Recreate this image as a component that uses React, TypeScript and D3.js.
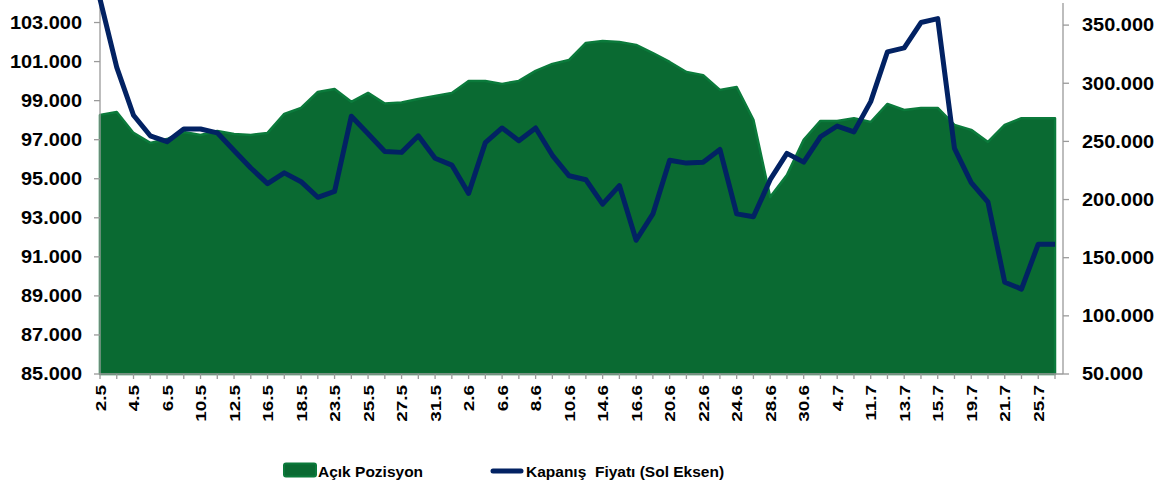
import React, { useEffect, useRef } from 'react';
import * as d3 from 'd3';

const dates = [
  '2.5', '3.5', '4.5', '5.5', '6.5', '9.5', '10.5', '11.5', '12.5', '13.5',
  '16.5', '17.5', '18.5', '20.5', '23.5', '24.5', '25.5', '26.5', '27.5', '30.5',
  '31.5', '1.6', '2.6', '3.6', '6.6', '7.6', '8.6', '9.6', '10.6', '13.6',
  '14.6', '15.6', '16.6', '17.6', '20.6', '21.6', '22.6', '23.6', '24.6', '27.6',
  '28.6', '29.6', '30.6', '1.7', '4.7', '8.7', '11.7', '12.7', '13.7', '14.7',
  '15.7', '18.7', '19.7', '20.7', '21.7', '22.7', '25.7', '26.7',
];

// Kapanış Fiyatı (left axis)
const closePrice = [
  104200, 100700, 98250, 97200, 96900, 97550, 97550, 97350, 96450, 95550,
  94750, 95300, 94850, 94050, 94350, 98200, 97300, 96400, 96350, 97200,
  96050, 95700, 94250, 96850, 97600, 96950, 97600, 96200, 95150, 94950,
  93700, 94650, 91850, 93200, 95950, 95800, 95850, 96500, 93200, 93050,
  94950, 96300, 95850, 97150, 97700, 97400, 98950, 101500, 101700, 103000,
  103200, 96550, 94800, 93800, 89700, 89350, 91650, 91650,
];

// Açık Pozisyon (right axis)
const openInterest = [
  272800, 275300, 257300, 248700, 252000, 258000, 255500, 259000, 256400, 255500,
  257300, 273600, 278800, 292500, 295100, 284000, 291700, 282600, 283500, 286500,
  289000, 291700, 302000, 302000, 299400, 302000, 310600, 316600, 320000, 334700,
  336400, 335500, 333000, 326000, 318300, 309700, 307000, 294300, 296800, 268500,
  202200, 221000, 251300, 267600, 267600, 270000, 266700, 282200, 277000, 278800,
  278800, 264200, 259900, 249500, 264200, 270000, 270000, 270000,
];

const leftTicks = [85000, 87000, 89000, 91000, 93000, 95000, 97000, 99000, 101000, 103000];
const rightTicks = [50000, 100000, 150000, 200000, 250000, 300000, 350000];

const seriesNames = ['Açık Pozisyon', 'Kapanış  Fiyatı (Sol Eksen)'];

const trLocale = d3.formatLocale({ decimal: ',', thousands: '.', grouping: [3], currency: ['', ' TL'] });
const fmt = trLocale.format(',.0f');

export default function App() {
  const ref = useRef<SVGSVGElement>(null);

  useEffect(() => {
    const svg = d3.select(ref.current);
    svg.selectAll('*').remove();
    const width = 1164;
    const height = 488;
    const left = 100;
    const right = 1063;
    const top = 3;
    const bottom = 374;
    const font = '"Liberation Sans", Arial, sans-serif';
    const green = '#0a6a32';
    const greenEdge = '#0b7a3b';
    const navy = '#022263';
    const axisColor = '#9a9a9a';

    svg.attr('width', width).attr('height', height);

    const x = d3.scalePoint<string>().domain(dates).range([left, 1055]);
    const yL = d3.scaleLinear().domain([85000, 104000]).range([bottom, top]);
    const yR = d3.scaleLinear().domain([50000, 369000]).range([bottom, top]);

    const area = d3
      .area<number>()
      .x((d, i) => x(dates[i]) as number)
      .y0(yR(50000))
      .y1((d) => yR(d));

    svg
      .append('path')
      .datum(openInterest)
      .attr('fill', green)
      .attr('stroke', greenEdge)
      .attr('stroke-width', 2.5)
      .attr('stroke-linejoin', 'round')
      .attr('d', area);

    // axes
    const ax = svg.append('g').attr('stroke', axisColor).attr('stroke-width', 1.3);
    ax.append('line').attr('x1', left).attr('x2', left).attr('y1', top).attr('y2', bottom);
    ax.append('line').attr('x1', right).attr('x2', right).attr('y1', top).attr('y2', bottom);
    ax.append('line').attr('x1', left).attr('x2', right).attr('y1', bottom).attr('y2', bottom);

    ax.selectAll('.tl')
      .data(leftTicks)
      .join('line')
      .attr('x1', left - 6)
      .attr('x2', left)
      .attr('y1', (d) => yL(d))
      .attr('y2', (d) => yL(d));

    ax.selectAll('.tr')
      .data(rightTicks)
      .join('line')
      .attr('x1', right)
      .attr('x2', right + 6)
      .attr('y1', (d) => yR(d))
      .attr('y2', (d) => yR(d));

    ax.selectAll('.tb')
      .data(dates)
      .join('line')
      .attr('x1', (d) => x(d) as number)
      .attr('x2', (d) => x(d) as number)
      .attr('y1', bottom)
      .attr('y2', bottom + 5);

    const labels = svg
      .append('g')
      .attr('font-family', font)
      .attr('font-weight', 'bold')
      .attr('fill', '#000');

    labels
      .selectAll('.ll')
      .data(leftTicks)
      .join('text')
      .attr('transform', (d) => `translate(82,${yL(d)}) scale(1.14,1)`)
      .attr('text-anchor', 'end')
      .attr('dy', '0.36em')
      .attr('font-size', 17.5)
      .text((d) => fmt(d));

    labels
      .selectAll('.rl')
      .data(rightTicks)
      .join('text')
      .attr('transform', (d) => `translate(1082,${yR(d)}) scale(1.14,1)`)
      .attr('text-anchor', 'start')
      .attr('dy', '0.36em')
      .attr('font-size', 17.5)
      .text((d) => fmt(d));

    labels
      .selectAll('.xl')
      .data(dates.filter((d, i) => i % 2 === 0))
      .join('text')
      .attr('transform', (d) => `translate(${x(d)},385) rotate(-90) scale(1.22,1)`)
      .attr('text-anchor', 'end')
      .attr('dy', '0.36em')
      .attr('font-size', 15.5)
      .text((d) => d);

    const line = d3
      .line<number>()
      .x((d, i) => x(dates[i]) as number)
      .y((d) => yL(d));

    svg
      .append('path')
      .datum(closePrice)
      .attr('fill', 'none')
      .attr('stroke', navy)
      .attr('stroke-width', 5)
      .attr('stroke-linejoin', 'round')
      .attr('d', line);

    // legend
    const lg = svg
      .append('g')
      .attr('font-family', font)
      .attr('font-weight', 'bold')
      .attr('font-size', 15.5)
      .attr('fill', '#000');

    lg.append('rect')
      .attr('x', 284)
      .attr('y', 463.5)
      .attr('width', 32)
      .attr('height', 13)
      .attr('rx', 2)
      .attr('fill', green)
      .attr('stroke', greenEdge)
      .attr('stroke-width', 2);
    lg.append('text').attr('x', 318).attr('y', 476.5).text(seriesNames[0]);

    lg.append('line')
      .attr('x1', 493)
      .attr('x2', 521)
      .attr('y1', 471)
      .attr('y2', 471)
      .attr('stroke', navy)
      .attr('stroke-width', 5)
      .attr('stroke-linecap', 'round');
    lg.append('text')
      .attr('x', 526)
      .attr('y', 476.5)
      .attr('xml:space', 'preserve')
      .style('white-space', 'pre')
      .text(seriesNames[1]);
  }, []);

  return <svg ref={ref} style={{ position: 'absolute', left: 0, top: 0 }}></svg>;
}
